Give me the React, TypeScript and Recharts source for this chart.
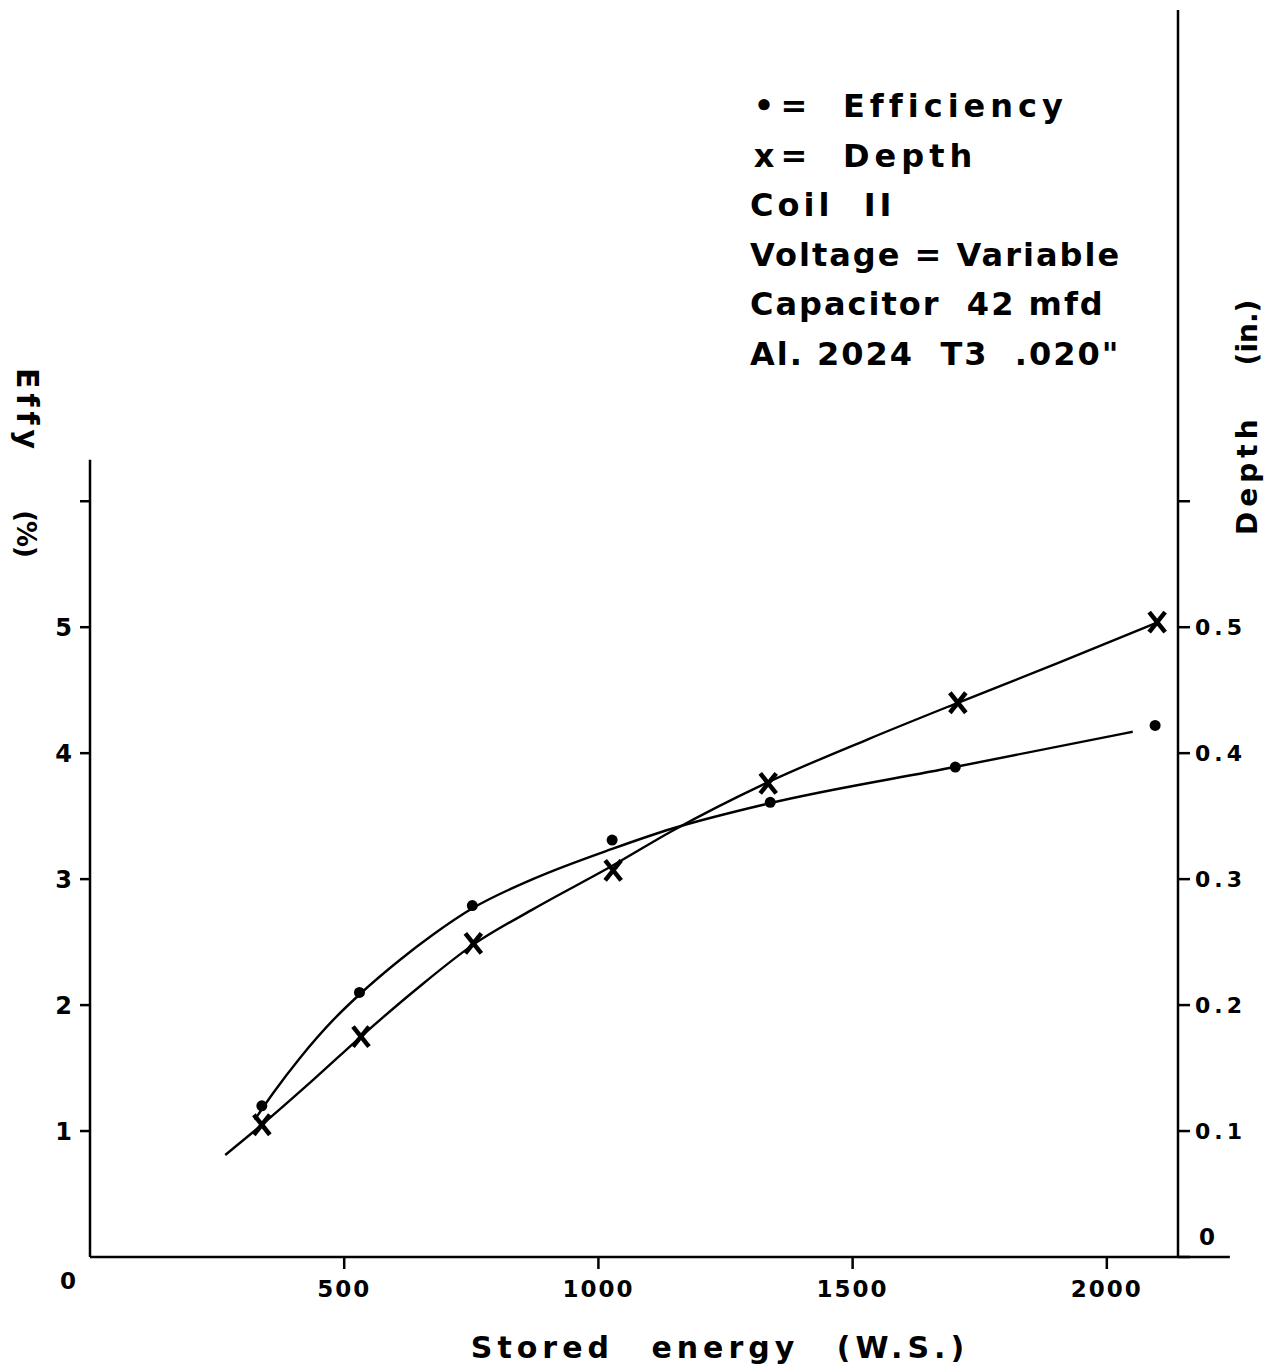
import React from 'react';
import {
  ComposedChart,
  Line,
  Scatter,
  XAxis,
  YAxis,
  ReferenceLine,
  Legend
} from 'recharts';

const FONT = '"DejaVu Sans", "Liberation Sans", sans-serif';

// plotted points: stored energy (W.S.) vs efficiency (%)
const effyEnergy = [338, 530, 752, 1027, 1338, 1702, 2095];
const effyValues = [1.2, 2.1, 2.79, 3.31, 3.61, 3.89, 4.22];

// plotted points: stored energy (W.S.) vs depth (in.)
const depthEnergy = [338, 533, 754, 1029, 1334, 1707, 2099];
const depthValues = [0.105, 0.175, 0.249, 0.307, 0.376, 0.44, 0.504];

// hand drawn fair curves
const effyCurveEnergy = [324, 360, 413, 478, 529, 610, 675, 753, 871, 1027, 1144, 1334, 1701, 2051];
const effyCurveValues = [1.09, 1.3, 1.58, 1.88, 2.08, 2.36, 2.56, 2.77, 3.0, 3.24, 3.4, 3.6, 3.89, 4.17];

const depthCurveEnergy = [266, 338, 440, 533, 643, 754, 871, 1029, 1144, 1334, 1530, 1707, 1907, 2095];
const depthCurveValues = [0.081, 0.105, 0.141, 0.175, 0.213, 0.248, 0.276, 0.311, 0.338, 0.377, 0.411, 0.44, 0.472, 0.503];

// axis ticks
const energyTicks = [0, 500, 1000, 1500, 2000];
const effyTicks = [1, 2, 3, 4, 5, 6];
const effyTickLabels = ['1', '2', '3', '4', '5', ''];
const depthTicks = [0, 0.1, 0.2, 0.3, 0.4, 0.5, 0.6];
const depthTickLabels = ['0', '0.1', '0.2', '0.3', '0.4', '0.5', ''];

const noteLines = ['Coil  II', 'Voltage = Variable', 'Capacitor  42 mfd', 'Al. 2024  T3  .020"'];

const zip = (xs: number[], ys: number[]) => xs.map((x, i) => ({ x, y: ys[i] }));

const effyPoints = zip(effyEnergy, effyValues);
const depthPoints = zip(depthEnergy, depthValues);
const effyCurve = zip(effyCurveEnergy, effyCurveValues);
const depthCurve = zip(depthCurveEnergy, depthCurveValues);

const INK = '#000';

const textStyle = {
  fontFamily: FONT,
  fontWeight: 700,
  fill: INK
};

const EnergyTick = (props: any) => {
  const { x, y, payload } = props;
  if (payload.value === 0) {
    return (
      <text x={x - 22} y={y + 32} textAnchor="middle" fontSize={23} {...textStyle}>
        0
      </text>
    );
  }
  return (
    <g>
      <line x1={x} y1={y} x2={x} y2={y + 12} stroke={INK} strokeWidth={2.5} />
      <text x={x} y={y + 40} textAnchor="middle" fontSize={23} letterSpacing={2} {...textStyle}>
        {payload.value}
      </text>
    </g>
  );
};

const DepthTick = (props: any) => {
  const { x, y, payload } = props;
  const idx = depthTicks.indexOf(payload.value);
  const label = depthTickLabels[idx] ?? '';
  if (payload.value === 0) {
    return (
      <text x={x + 4} y={y - 12} fontSize={23} {...textStyle}>
        {label}
      </text>
    );
  }
  return (
    <text x={x} y={y} dy="0.36em" fontSize={22} letterSpacing={4} {...textStyle}>
      {label}
    </text>
  );
};

const XMark = (props: any) => {
  const { cx, cy } = props;
  const w = 8;
  const h = 10;
  return (
    <g>
      <line x1={cx - w} y1={cy - h} x2={cx + w} y2={cy + h} stroke={INK} strokeWidth={4.5} />
      <line x1={cx + w} y1={cy - h} x2={cx - w} y2={cy + h} stroke={INK} strokeWidth={4.5} />
    </g>
  );
};

const DotMark = (props: any) => {
  const { cx, cy } = props;
  return <circle cx={cx} cy={cy} r={5.5} fill={INK} />;
};

const NoteBlock = () => (
  <div
    style={{
      fontFamily: FONT,
      fontWeight: 700,
      fontSize: 32,
      lineHeight: '49.6px',
      letterSpacing: 2,
      color: INK,
      whiteSpace: 'pre'
    }}
  >
    <div>
      <span style={{ display: 'inline-block', width: 30, textAlign: 'center' }}>•</span>
      <span style={{ display: 'inline-block', width: 30, textAlign: 'center', marginRight: 33 }}>=</span>
      <span style={{ letterSpacing: 5 }}>Efficiency</span>
    </div>
    <div>
      <span style={{ display: 'inline-block', width: 30, textAlign: 'center' }}>x</span>
      <span style={{ display: 'inline-block', width: 30, textAlign: 'center', marginRight: 33 }}>=</span>
      <span style={{ letterSpacing: 5 }}>Depth</span>
    </div>
    {noteLines.map((line, i) => (
      <div key={line} style={i === 0 ? { letterSpacing: 4 } : undefined}>
        {line}
      </div>
    ))}
  </div>
);

const App = () => {
  return (
    <div style={{ position: 'absolute', left: 0, top: 0, background: '#fff' }}>
      <ComposedChart
        width={1266}
        height={1371}
        margin={{ top: 10, right: 28, bottom: 54, left: 10 }}
      >
        <XAxis
          type="number"
          dataKey="x"
          domain={[0, 2140]}
          ticks={energyTicks}
          axisLine={false}
          tickLine={false}
          tickSize={0}
          tickMargin={0}
          height={60}
          tick={<EnergyTick />}
          label={{
            content: (p: any) => (
              <text
                x={p.viewBox.x + 630}
                y={1358}
                textAnchor="middle"
                fontSize={30}
                letterSpacing={5}
                wordSpacing={22}
                {...textStyle}
              >
                Stored energy (W.S.)
              </text>
            )
          }}
        />
        <YAxis
          yAxisId="left"
          type="number"
          dataKey="y"
          domain={[0, 9.9]}
          ticks={effyTicks}
          width={80}
          axisLine={false}
          tickLine={{ stroke: INK, strokeWidth: 2.5 }}
          tickSize={10}
          tickMargin={8}
          tickFormatter={(v: number) => effyTickLabels[effyTicks.indexOf(v)] ?? ''}
          tick={{ fontSize: 24, fontFamily: FONT, fontWeight: 700, fill: INK }}
          label={{
            content: () => (
              <text transform="translate(17,368) rotate(90)" textAnchor="start" {...textStyle}>
                <tspan fontSize={30} letterSpacing={5}>Effy</tspan>
                <tspan dx={56} fontSize={26} letterSpacing={-1}>(%)</tspan>
              </text>
            )
          }}
        />
        <YAxis
          yAxisId="right"
          orientation="right"
          type="number"
          dataKey="y"
          domain={[0, 0.99]}
          ticks={depthTicks}
          width={60}
          axisLine={{ stroke: INK, strokeWidth: 2.5 }}
          tickLine={{ stroke: INK, strokeWidth: 2.5 }}
          tickSize={12}
          tickMargin={5}
          tick={<DepthTick />}
          label={{
            content: () => (
              <text transform="translate(1257,535) rotate(-90)" textAnchor="start" {...textStyle}>
                <tspan fontSize={28} letterSpacing={5}>Depth</tspan>
                <tspan dx={49} fontSize={28}>(in.)</tspan>
              </text>
            )
          }}
        />

        {/* left axis stops short of the top, bottom axis runs past the right axis */}
        <ReferenceLine
          yAxisId="left"
          segment={[{ x: 0, y: 0 }, { x: 0, y: 6.33 }]}
          stroke={INK}
          strokeWidth={2.5}
          ifOverflow="visible"
        />
        <ReferenceLine
          yAxisId="left"
          segment={[{ x: 0, y: 0 }, { x: 2242, y: 0 }]}
          stroke={INK}
          strokeWidth={2.5}
          ifOverflow="visible"
        />

        <Line
          yAxisId="left"
          data={effyCurve}
          dataKey="y"
          type="monotone"
          stroke={INK}
          strokeWidth={2.4}
          dot={false}
          activeDot={false}
          isAnimationActive={false}
        />
        <Line
          yAxisId="right"
          data={depthCurve}
          dataKey="y"
          type="monotone"
          stroke={INK}
          strokeWidth={2.4}
          dot={false}
          activeDot={false}
          isAnimationActive={false}
        />
        <Scatter
          yAxisId="left"
          data={effyPoints}
          dataKey="y"
          shape={<DotMark />}
          isAnimationActive={false}
        />
        <Scatter
          yAxisId="right"
          data={depthPoints}
          dataKey="y"
          shape={<XMark />}
          isAnimationActive={false}
        />

        <Legend
          layout="vertical"
          align="center"
          verticalAlign="middle"
          content={<NoteBlock />}
          wrapperStyle={{ top: 82, left: 750, width: 440 }}
        />
      </ComposedChart>
    </div>
  );
};

export default App;
